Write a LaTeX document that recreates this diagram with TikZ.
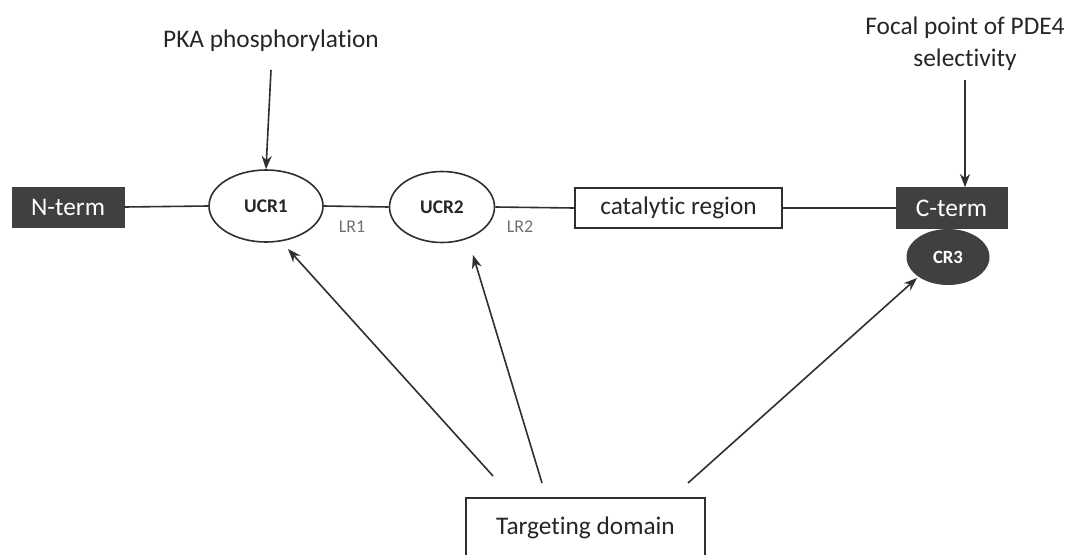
\documentclass[tikz,border=0pt]{standalone}
\usepackage{fontspec}
\setmainfont{Carlito}[Ligatures={NoCommon,NoRare}]
\usetikzlibrary{arrows.meta,shapes.geometric}
\definecolor{dark}{HTML}{404040}
\definecolor{ln}{HTML}{2f2f2f}
\definecolor{lrgray}{HTML}{707070}
\begin{document}
\begin{tikzpicture}[x=0.75pt,y=-0.75pt,
  every node/.style={inner sep=0pt, text=black!85, font=\fontsize{19}{24}\selectfont},
  darkbox/.style={rectangle, fill=dark, draw=dark, text=white},
  whitebox/.style={rectangle, draw=ln, line width=1.3pt, fill=white},
  oval/.style={ellipse, draw=ln, line width=1.2pt, font=\bfseries\fontsize{14.5}{17}\selectfont},
  link/.style={draw=ln, line width=1.2pt},
  arr/.style={draw=ln, line width=1.2pt, -{Stealth[length=10pt,width=7.5pt]}},
  lr/.style={text=lrgray, font=\fontsize{13.5}{16}\selectfont}
]
\useasboundingbox (0,0) rectangle (1070,554);
\fill[white] (0,0) rectangle (1070,554);

\node[darkbox, minimum width=84pt, minimum height=30pt] (nterm) at (68,207) {N-term};
\node[oval, minimum width=85.5pt, minimum height=54pt] (ucr1) at (266,206) {UCR1};
\node[oval, minimum width=78.75pt, minimum height=53.25pt] (ucr2) at (442,207) {UCR2};
\node[whitebox, minimum width=155.25pt, minimum height=30pt] (cat) at (678.5,208) {catalytic region};
\node[darkbox, minimum width=83.25pt, minimum height=30.75pt] (cterm) at (951.5,208) {C-term};
\node[ellipse, fill=dark, minimum width=62.25pt, minimum height=42pt, text=white,
      font=\bfseries\fontsize{14}{17}\selectfont] (cr3) at (948,257) {CR3};

\node[lr] (lr1) at (352,227) {LR1};
\node[lr] (lr2) at (520,227) {LR2};

\node (pka) at (271,41) {PKA phosphorylation};
\node[align=center] (focal) at (965,44) {Focal point of PDE4\\selectivity};

\node[whitebox, minimum width=179.25pt, minimum height=48pt] (target) at (585.5,530) {};
\node (tlabel) at (585.5,528) {Targeting domain};

\coordinate (pkaS) at (271,70);
\coordinate (focS) at (965,80);
\coordinate (t1) at (493,476);
\coordinate (t2) at (542,483);
\coordinate (t3) at (688,483);
\coordinate (h1) at (288,249);
\coordinate (h2) at (473,255);
\coordinate (h3) at (917,278);

\draw[link] (nterm.east) -- (ucr1.west);
\draw[link] (ucr1.east) -- (ucr2.west);
\draw[link] (ucr2.east) -- (cat.west);
\draw[link] (cat.east) -- (cterm.west);

\draw[arr] (pkaS) -- (ucr1.north);
\draw[arr] (focS) -- (focS |- cterm.north);
\draw[arr] (t1) -- (h1);
\draw[arr] (t2) -- (h2);
\draw[arr] (t3) -- (h3);
\end{tikzpicture}
\end{document}
